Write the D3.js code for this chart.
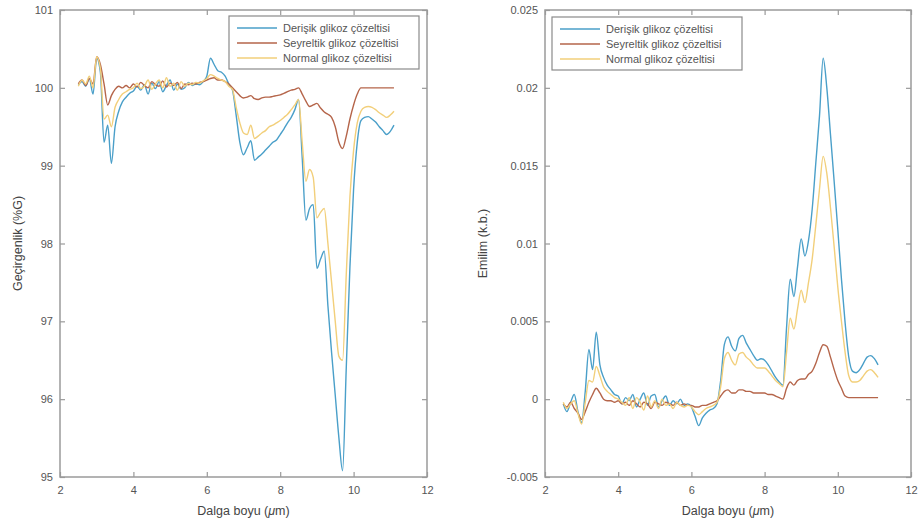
<!DOCTYPE html>
<html>
<head>
<meta charset="utf-8">
<script src="https://cdn.jsdelivr.net/npm/d3@7"></script>
<style>
  body { margin: 0; background: #fff; }
  svg { display: block; }
</style>
</head>
<body>
<script>
// wavelength grid (um), shared by every series
var wavelength = [2.5, 2.6, 2.7, 2.8, 2.9, 3.0, 3.1, 3.2, 3.3, 3.4, 3.5, 3.6, 3.7, 3.8, 3.9,
  4.0, 4.1, 4.2, 4.3, 4.4, 4.5, 4.6, 4.7, 4.8, 4.9, 5.0, 5.1, 5.2, 5.3, 5.4, 5.5, 5.6, 5.7, 5.8, 5.9,
  6.0, 6.1, 6.2, 6.3, 6.4, 6.5, 6.6, 6.7, 6.8, 6.9, 7.0, 7.1, 7.2, 7.3, 7.4, 7.5, 7.6, 7.7, 7.8, 7.9,
  8.0, 8.1, 8.2, 8.3, 8.4, 8.5, 8.6, 8.7, 8.8, 8.9, 9.0, 9.1, 9.2, 9.3, 9.4, 9.5, 9.6, 9.7, 9.8, 9.9,
  10.0, 10.1, 10.2, 10.3, 10.4, 10.5, 10.6, 10.7, 10.8, 10.9, 11.0, 11.1];

var seriesNames = ["Derişik glikoz çözeltisi", "Seyreltik glikoz çözeltisi", "Normal glikoz çözeltisi"];
var seriesColors = ["#4a9fc9", "#b5654a", "#f2cf7a"];

// transmittance (%G)
var transDerisik = [100.04, 100.08, 100.02, 100.12, 99.92, 100.38, 100.2, 99.3, 99.52, 99.03, 99.5, 99.7, 99.82, 99.88, 99.93,
  99.96, 100.02, 99.97, 100.04, 99.92, 100.06, 99.99, 100.08, 99.95, 100.03, 100.1, 99.97, 100.05, 99.98, 100.0, 100.07, 100.03, 100.05, 100.04, 100.08,
  100.15, 100.38, 100.3, 100.22, 100.2, 100.15, 100.05, 99.97, 99.65, 99.3, 99.14, 99.23, 99.32, 99.07, 99.11, 99.15, 99.2, 99.25, 99.3, 99.33,
  99.4, 99.47, 99.55, 99.62, 99.72, 99.85, 99.1, 98.3, 98.45, 98.5, 97.68, 97.8, 97.9, 97.2, 96.6, 96.05, 95.5, 95.08, 96.4, 97.7,
  98.7, 99.3, 99.58, 99.62, 99.63, 99.6, 99.56, 99.5, 99.45, 99.4, 99.44, 99.52];
var transSeyreltik = [100.05, 100.1, 100.03, 100.12, 100.05, 100.4, 100.3, 100.05, 99.78, 99.9, 99.98, 100.02, 100.0, 100.03, 100.0,
  100.05, 100.01, 100.07, 100.03, 100.0, 100.08, 100.04, 100.02, 100.09, 100.01, 100.06, 100.03, 100.07, 99.99, 100.05, 100.04, 100.06, 100.05, 100.07, 100.08,
  100.1, 100.12, 100.13, 100.1, 100.1, 100.08, 100.05, 100.0, 99.95, 99.9, 99.87, 99.88, 99.9, 99.86, 99.85, 99.87, 99.88, 99.88, 99.89, 99.9,
  99.91, 99.93, 99.95, 99.97, 99.98, 100.0, 99.92, 99.83, 99.76, 99.78, 99.8, 99.74, 99.69, 99.66, 99.62, 99.5, 99.3, 99.22, 99.38, 99.6,
  99.78, 99.92, 100.0, 100.0, 100.0, 100.0, 100.0, 100.0, 100.0, 100.0, 100.0, 100.0];
var transNormal = [100.02, 100.1, 100.05, 100.15, 100.0, 100.4, 100.25, 99.6, 99.65, 99.5, 99.75, 99.85, 99.92, 99.95, 99.98,
  100.0, 100.06, 99.99, 100.02, 100.1, 99.98, 100.05, 100.1, 100.0, 100.13, 100.02, 100.06, 99.97, 100.08, 100.02, 100.06, 100.04, 100.07, 100.06, 100.09,
  100.12, 100.17, 100.15, 100.12, 100.1, 100.08, 100.02, 99.98, 99.75, 99.55, 99.42, 99.4, 99.52, 99.35, 99.38, 99.42, 99.45, 99.5, 99.52, 99.55,
  99.58, 99.62, 99.66, 99.72, 99.78, 99.85, 99.3, 98.8, 98.95, 98.85, 98.33, 98.4, 98.45, 98.0, 97.5, 97.0, 96.55, 96.5, 97.6, 98.6,
  99.2, 99.55, 99.7, 99.75, 99.76, 99.75, 99.72, 99.68, 99.65, 99.62, 99.65, 99.7];

// absorbance (k.b.)
var absDerisik = [-0.0003, -0.0008, -0.0002, 0.0003, -0.0008, -0.0015, 0.0005, 0.0032, 0.0019, 0.0043, 0.0022, 0.0014, 0.0009, 0.0006, 0.0003,
  0.0002, -0.0003, 0.0001, -0.0001, 0.0003, -0.0005, 0.0, 0.0004, -0.0004, 0.0002, 0.0003, -0.0005, -0.0001, 0.0002, -0.0004, -0.0001, -0.0003, 0.0, -0.0004, -0.0003,
  -0.0005, -0.0011, -0.0017, -0.0012, -0.0009, -0.0007, -0.0006, -0.0003, 0.0012, 0.0035, 0.004, 0.0034, 0.0031, 0.0039, 0.0041, 0.0036, 0.0032, 0.0028, 0.0025, 0.0026,
  0.0025, 0.0022, 0.0018, 0.0014, 0.0011, 0.0009, 0.0046, 0.0077, 0.0066, 0.0085, 0.0103, 0.0092, 0.0102, 0.0122, 0.0152, 0.0182, 0.0219, 0.02, 0.017, 0.014,
  0.0109, 0.0077, 0.0049, 0.0027, 0.0018, 0.0017, 0.0019, 0.0023, 0.0027, 0.0028, 0.0026, 0.0022];
var absSeyreltik = [-0.0003, -0.0005, -0.0002, -0.0006, -0.0009, -0.0013, -0.0008, -0.0002, 0.0003, 0.0007, 0.0004, 0.0, -0.0001, -0.0001, -0.0002,
  -0.0001, -0.0003, -0.0002, -0.0004, -0.0001, -0.0003, -0.0005, -0.0002, -0.0003, -0.0006, -0.0002, -0.0003, -0.0004, -0.0002, -0.0003, -0.0004, -0.0002, -0.0004, -0.0003, -0.0004,
  -0.0004, -0.0005, -0.0005, -0.0004, -0.0004, -0.0003, -0.0002, -0.0001, 0.0002, 0.0005, 0.0006, 0.0004, 0.0004, 0.0006, 0.0006, 0.0005, 0.0005, 0.0004, 0.0004, 0.0004,
  0.0004, 0.0003, 0.0003, 0.0002, 0.0001, 0.0, 0.0007, 0.0011, 0.0009, 0.0012, 0.0013, 0.0013, 0.0016, 0.0018, 0.0023, 0.003, 0.0035, 0.0034, 0.0027, 0.0019,
  0.0012, 0.0007, 0.0002, 0.0001, 0.0001, 0.0001, 0.0001, 0.0001, 0.0001, 0.0001, 0.0001, 0.0001];
var absNormal = [-0.0002, -0.0006, -0.0003, -0.0001, -0.0009, -0.0016, -0.0002, 0.0012, 0.0011, 0.0021, 0.0015, 0.0008, 0.0005, 0.0003, 0.0001,
  0.0, -0.0002, -0.0004, 0.0001, -0.0006, 0.0001, -0.0002, -0.0007, 0.0002, -0.0005, -0.0001, -0.0006, 0.0, -0.0004, -0.0003, -0.0006, -0.0002, -0.0004, -0.0005, -0.0004,
  -0.0005, -0.0008, -0.001, -0.0008, -0.0006, -0.0005, -0.0004, -0.0002, 0.0008, 0.0026, 0.003, 0.0025, 0.0022, 0.0029, 0.003, 0.0027, 0.0025, 0.0022, 0.002, 0.002,
  0.002, 0.0018, 0.0015, 0.0012, 0.001, 0.0008, 0.003, 0.0052, 0.0045, 0.0058, 0.007, 0.0062, 0.0075, 0.009, 0.0112, 0.0135, 0.0156, 0.0145, 0.0123, 0.0098,
  0.0072, 0.005, 0.003, 0.0015, 0.0011, 0.0011, 0.0012, 0.0015, 0.0018, 0.0019, 0.0017, 0.0014];

var xTicks = [2, 4, 6, 8, 10, 12];
var transTicks = [95, 96, 97, 98, 99, 100, 101];
var absTicks = [-0.005, 0, 0.005, 0.01, 0.015, 0.02, 0.025];

var width = 918, height = 527;
var axisColor = "#9a9a9a", textColor = "#555";
var font = "Liberation Sans, Arial, sans-serif";

var svg = d3.select("body").append("svg")
    .attr("width", width)
    .attr("height", height);

function drawPanel(opts) {
    var x = d3.scaleLinear().domain([2, 12]).range([opts.left, opts.right]);
    var y = d3.scaleLinear().domain(opts.yDomain).range([opts.bottom, opts.top]);
    var g = svg.append("g");

    // lines
    var line = d3.line()
        .x(function(d) { return x(d[0]); })
        .y(function(d) { return y(d[1]); })
        .curve(d3.curveMonotoneX);

    opts.series.forEach(function(vals, i) {
        var pts = wavelength.map(function(w, j) { return [w, vals[j]]; });
        g.append("path")
            .datum(pts)
            .attr("fill", "none")
            .attr("stroke", seriesColors[i])
            .attr("stroke-width", 1.4)
            .attr("stroke-linejoin", "round")
            .attr("d", line);
    });

    // box
    g.append("rect")
        .attr("x", opts.left).attr("y", opts.top)
        .attr("width", opts.right - opts.left)
        .attr("height", opts.bottom - opts.top)
        .attr("fill", "none")
        .attr("stroke", axisColor)
        .attr("stroke-width", 1.5);

    // axes with inward ticks
    var bottomAxis = g.append("g")
        .attr("transform", "translate(0," + opts.bottom + ")")
        .call(d3.axisBottom(x).tickValues(xTicks).tickSize(-5).tickPadding(9));
    var topAxis = g.append("g")
        .attr("transform", "translate(0," + opts.top + ")")
        .call(d3.axisTop(x).tickValues(xTicks).tickSize(-5).tickFormat(""));
    var leftAxis = g.append("g")
        .attr("transform", "translate(" + opts.left + ",0)")
        .call(d3.axisLeft(y).tickValues(opts.yTicks).tickSize(-5).tickPadding(7).tickFormat(opts.fmt));
    var rightAxis = g.append("g")
        .attr("transform", "translate(" + opts.right + ",0)")
        .call(d3.axisRight(y).tickValues(opts.yTicks).tickSize(-5).tickFormat(""));

    [bottomAxis, topAxis, leftAxis, rightAxis].forEach(function(a) {
        a.select(".domain").remove();
        a.selectAll(".tick line").attr("stroke", axisColor).attr("stroke-width", 1.2);
        a.selectAll(".tick text")
            .attr("fill", textColor)
            .attr("font-family", font)
            .attr("font-size", "11px");
    });

    // axis titles
    var xt = g.append("text")
        .attr("x", (opts.left + opts.right) / 2)
        .attr("y", 515)
        .attr("text-anchor", "middle")
        .attr("font-family", font)
        .attr("font-size", "12.5px")
        .attr("fill", "#444");
    xt.append("tspan").text("Dalga boyu (");
    xt.append("tspan").attr("font-style", "italic").text("μ");
    xt.append("tspan").text("m)");

    g.append("text")
        .attr("transform", "translate(" + opts.yLabelX + "," + ((opts.top + opts.bottom) / 2) + ") rotate(-90)")
        .attr("text-anchor", "middle")
        .attr("font-family", font)
        .attr("font-size", "12.5px")
        .attr("fill", "#444")
        .text(opts.yLabel);

    // legend
    var lg = g.append("g").attr("transform", "translate(" + opts.legendX + "," + opts.legendY + ")");
    lg.append("rect")
        .attr("width", 190).attr("height", 53)
        .attr("fill", "#fff")
        .attr("stroke", "#8a8a8a")
        .attr("stroke-width", 1.2);
    seriesNames.forEach(function(name, i) {
        var yy = 12 + i * 15;
        lg.append("line")
            .attr("x1", 8).attr("x2", 48)
            .attr("y1", yy).attr("y2", yy)
            .attr("stroke", seriesColors[i])
            .attr("stroke-width", 1.4);
        lg.append("text")
            .attr("x", 54).attr("y", yy + 4)
            .attr("font-family", font)
            .attr("font-size", "11px")
            .attr("fill", "#555")
            .text(name);
    });
}

drawPanel({
    left: 60, right: 427, top: 10, bottom: 477,
    yDomain: [95, 101], yTicks: transTicks,
    fmt: d3.format("d"),
    series: [transDerisik, transSeyreltik, transNormal],
    yLabel: "Geçirgenlik (%G)", yLabelX: 22,
    legendX: 229, legendY: 16
});

drawPanel({
    left: 545, right: 911, top: 10, bottom: 477,
    yDomain: [-0.005, 0.025], yTicks: absTicks,
    fmt: function(d) { return d === 0 ? "0" : String(+d.toFixed(3)); },
    series: [absDerisik, absSeyreltik, absNormal],
    yLabel: "Emilim (k.b.)", yLabelX: 487,
    legendX: 552, legendY: 17
});
</script>
</body>
</html>
